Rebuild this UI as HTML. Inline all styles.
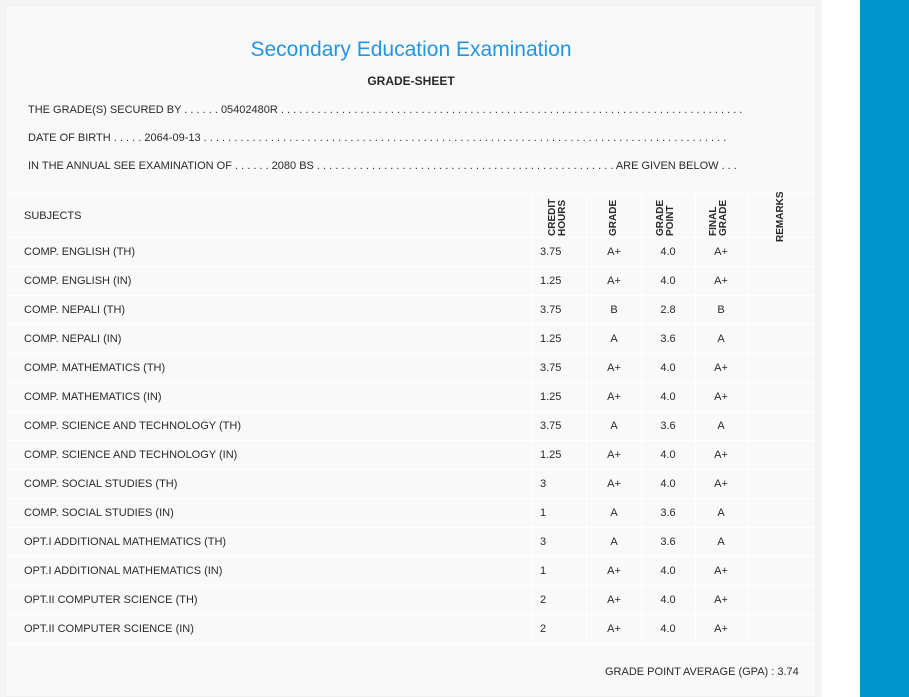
<!DOCTYPE html>
<html><head><meta charset="utf-8"><style>
*{margin:0;padding:0;box-sizing:border-box}
body{width:909px;height:697px;background:#fff;position:relative;overflow:hidden;font-family:"Liberation Sans",sans-serif;color:#2a2a2a}
.blue{position:absolute;left:860px;top:0;width:49px;height:697px;background:#0096cc}
.card{position:absolute;left:0;top:0;width:822px;height:697px;background:#f4f4f4}
.inner{position:absolute;left:5px;top:5px;width:811px;height:692px;background:#f9f9f9;border:1px solid #f0f0f0}
.t{position:absolute;white-space:nowrap;font-size:11px;transform-origin:0 0}
.title{position:absolute;left:0;width:822px;top:38px;text-align:center;font-size:21px;color:#2196e3}
.h{position:absolute;left:0;width:822px;top:74px;text-align:center;font-size:12px;font-weight:bold}
.hl{position:absolute;left:5px;width:810px;height:1px;background:#fff}
.vl{position:absolute;top:193px;width:1px;height:450px;background:#fff}
.rot{position:absolute;font-size:10px;font-weight:bold;transform:rotate(-90deg);transform-origin:0 0;line-height:10px;white-space:nowrap}
.c{position:absolute;font-size:11px;text-align:center;width:54px}
</style></head><body>
<div class="card"></div><div class="inner"></div><div class="blue"></div>
<div class="title">Secondary Education Examination</div>
<div class="h">GRADE-SHEET</div>
<div class="t" style="left:28px;top:104px">THE GRADE(S) SECURED BY . . . . . . 05402480R . . . . . . . . . . . . . . . . . . . . . . . . . . . . . . . . . . . . . . . . . . . . . . . . . . . . . . . . . . . . . . . . . . . . . . . . . . . .</div>
<div class="t" style="left:28px;top:132px">DATE OF BIRTH . . . . . 2064-09-13 . . . . . . . . . . . . . . . . . . . . . . . . . . . . . . . . . . . . . . . . . . . . . . . . . . . . . . . . . . . . . . . . . . . . . . . . . . . . . . . . . . . . . .</div>
<div class="t" style="left:28px;top:160px">IN THE ANNUAL SEE EXAMINATION OF . . . . . . 2080 BS . . . . . . . . . . . . . . . . . . . . . . . . . . . . . . . . . . . . . . . . . . . . . . . . . ARE GIVEN BELOW . . .</div>
<div class="hl" style="top:193px"></div>
<div class="vl" style="left:532px"></div><div class="vl" style="left:586px"></div><div class="vl" style="left:641px"></div><div class="vl" style="left:695px"></div><div class="vl" style="left:747px"></div>
<div class="t" style="left:24px;top:210px">SUBJECTS</div>
<div class="rot" style="left:548px;top:236px">CREDIT<br>HOURS</div>
<div class="rot" style="left:609px;top:236px">GRADE</div>
<div class="rot" style="left:656px;top:236px">GRADE<br>POINT</div>
<div class="rot" style="left:709px;top:236px">FINAL<br>GRADE</div>
<div class="rot" style="left:776px;top:242px;z-index:2">REMARKS</div>
<div id="rows"></div>
<div class="t" style="left:605px;top:666px">GRADE POINT AVERAGE (GPA) : 3.74</div>
<script>
var d=[["COMP. ENGLISH (TH)","3.75","A+","4.0","A+"],["COMP. ENGLISH (IN)","1.25","A+","4.0","A+"],["COMP. NEPALI (TH)","3.75","B","2.8","B"],["COMP. NEPALI (IN)","1.25","A","3.6","A"],["COMP. MATHEMATICS (TH)","3.75","A+","4.0","A+"],["COMP. MATHEMATICS (IN)","1.25","A+","4.0","A+"],["COMP. SCIENCE AND TECHNOLOGY (TH)","3.75","A","3.6","A"],["COMP. SCIENCE AND TECHNOLOGY (IN)","1.25","A+","4.0","A+"],["COMP. SOCIAL STUDIES (TH)","3","A+","4.0","A+"],["COMP. SOCIAL STUDIES (IN)","1","A","3.6","A"],["OPT.I ADDITIONAL MATHEMATICS (TH)","3","A","3.6","A"],["OPT.I ADDITIONAL MATHEMATICS (IN)","1","A+","4.0","A+"],["OPT.II COMPUTER SCIENCE (TH)","2","A+","4.0","A+"],["OPT.II COMPUTER SCIENCE (IN)","2","A+","4.0","A+"]];
var h="";
for(var i=0;i<d.length;i++){var y=237+i*29;var r=d[i];
h+='<div class="hl" style="top:'+y+'px"></div>';
h+='<div class="t" style="left:24px;top:'+(y+9)+'px">'+r[0]+'</div>';
h+='<div class="t" style="left:540px;top:'+(y+9)+'px">'+r[1]+'</div>';
h+='<div class="c" style="left:587px;top:'+(y+9)+'px">'+r[2]+'</div>';
h+='<div class="c" style="left:641px;top:'+(y+9)+'px">'+r[3]+'</div>';
h+='<div class="c" style="left:694px;top:'+(y+9)+'px">'+r[4]+'</div>';}
h+='<div class="hl" style="top:643px"></div>';
document.getElementById("rows").innerHTML=h;
</script>
</body></html>
